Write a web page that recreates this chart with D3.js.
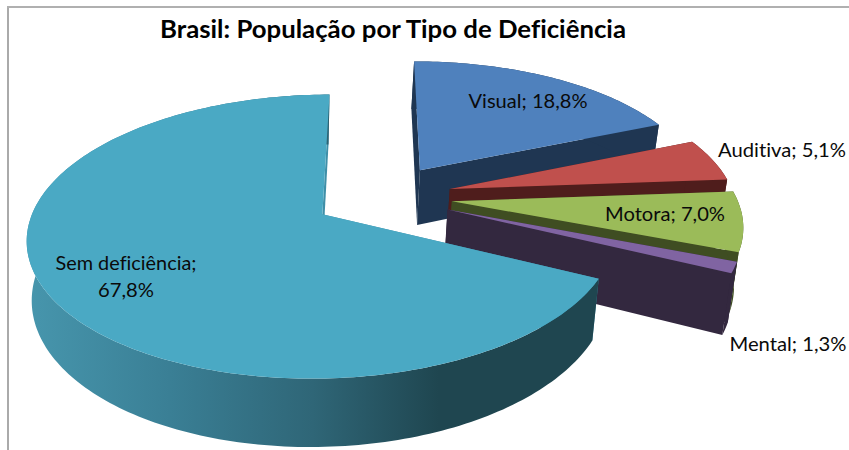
<!DOCTYPE html>
<html><head><meta charset="utf-8">
<script src="https://cdnjs.cloudflare.com/ajax/libs/d3/7.8.5/d3.min.js"></script>
<style>html,body{margin:0;padding:0;background:#fff}svg{display:block}text{font-variant-ligatures:none}</style>
</head><body><div id="c"></div>
<script>
const categories = ["Visual","Auditiva","Motora","Mental","Sem deficiência"];
const values = [18.8,5.1,7.0,1.3,67.8];
const valueLabels = ["18,8%","5,1%","7,0%","1,3%","67,8%"];
const topColors = ["#4F81BD","#C0504D","#9BBB59","#8064A2","#4AA9C4"];
const wallColors = ["#1F3652","#4F1D1C","#3F4D22","#33283F","url(#semWall)"];
const cutColors = ["#1F3652","#4F1D1C","#3F4D22","#33283F","#3F8FA8"];
const chartTitle = "Brasil: População por Tipo de Deficiência";
// label anchors: [centre x, baseline y, target width]
const labelPos = [[528,108,119],[782,157,128],[665,221,120],[788,351,117],[126,270,141]];

const W=849,H=450;
const svg=d3.select("#c").append("svg").attr("width",W).attr("height",H);
const defs=svg.append("defs");
const g=defs.append("linearGradient").attr("id","semWall").attr("x1","0").attr("x2","1").attr("y1","0").attr("y2","0");
[[0,"#4796AD"],[.25,"#3A7F95"],[.5,"#2F6677"],[.72,"#1F4650"],[1,"#1F4650"]].forEach(s=>g.append("stop").attr("offset",s[0]).attr("stop-color",s[1]));

svg.append("rect").attr("x",7).attr("y",6).attr("width",2).attr("height",H-6).attr("fill","#aaa");
svg.append("rect").attr("x",7).attr("y",6).attr("width",W-7).attr("height",2).attr("fill","#b0b0b0");

// projection of the tilted disc, with perspective (the base shrinks slightly towards a vanishing x)
const cx=382.5,cy=196.5,A=284.5,B=133,p=0.154,E=0.245,Z=56.5,shrink=0.02,vx=279;
const proj=(X,Y,z)=>{const k=1/(1-p*Y);const x=cx+A*X*k;return [x-shrink*z*(x-vx), cy+(B*Y+z*Z)*k];};
const pie=d3.pie().sort(null).value(d=>d).startAngle(-0.004).endAngle(-0.004+2*Math.PI);
const arcs=pie(values);
const line=d3.line();

arcs.forEach((a,i)=>{
  const mid=(a.startAngle+a.endAngle)/2;
  const ox=E*Math.sin(mid), oy=-E*Math.cos(mid);
  const n=Math.max(2,Math.ceil((a.endAngle-a.startAngle)/0.02));
  const angs=d3.range(n+1).map(j=>a.startAngle+(a.endAngle-a.startAngle)*j/n);
  const rim=z=>angs.map(t=>proj(ox+Math.sin(t),oy-Math.cos(t),z));
  const apex=z=>proj(ox,oy,z);
  const G=svg.append("g").attr("class","slice");
  const r0=rim(0), r1=rim(1);
  // cut faces
  G.append("path").attr("d",line([apex(0),r0[0],r1[0],apex(1)])+"Z").attr("fill",cutColors[i]);
  G.append("path").attr("d",line([apex(0),r0[n],r1[n],apex(1)])+"Z").attr("fill",cutColors[i]);
  // outer wall
  G.append("path").attr("d",line(r0.concat(r1.slice().reverse()))+"Z").attr("fill",wallColors[i]);
  // top
  G.append("path").attr("d",line([apex(0)].concat(r0))+"Z").attr("fill",topColors[i]);
});

svg.append("text").attr("x",393).attr("y",38).attr("text-anchor","middle")
  .attr("textLength",466).attr("lengthAdjust","spacingAndGlyphs")
  .attr("font-family","Lato").attr("font-weight",700).attr("font-size",24).attr("fill","#000").text(chartTitle);

categories.forEach((c,i)=>{
  const lp=labelPos[i];
  const t=(i===4)?c+";":c+"; "+valueLabels[i];
  svg.append("text").attr("x",lp[0]).attr("y",lp[1]).attr("text-anchor","middle")
    .attr("textLength",lp[2]).attr("lengthAdjust","spacingAndGlyphs")
    .attr("font-family","Lato").attr("font-size",19).attr("fill","#0a0a0a").text(t);
});
svg.append("text").attr("x",126).attr("y",297).attr("text-anchor","middle")
  .attr("textLength",56).attr("lengthAdjust","spacingAndGlyphs")
  .attr("font-family","Lato").attr("font-size",19).attr("fill","#0a0a0a").text(valueLabels[4]);
</script></body></html>
